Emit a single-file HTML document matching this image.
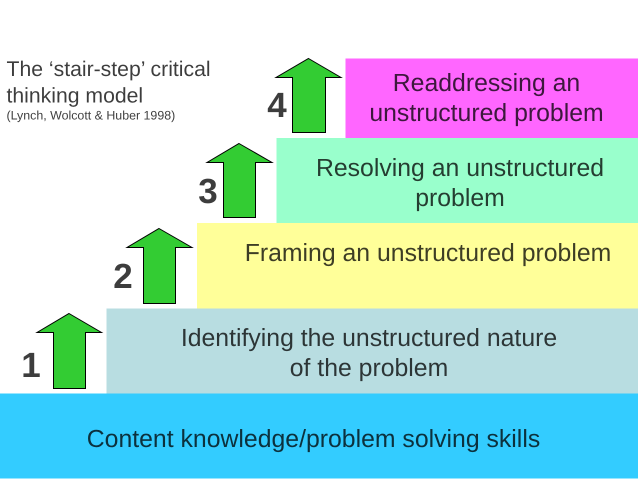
<!DOCTYPE html>
<html><head><meta charset="utf-8"><style>
html,body{margin:0;padding:0;background:#fff}
svg{display:block}
text{font-family:"Liberation Sans",Arial,sans-serif;fill:#000;fill-opacity:.76;text-rendering:geometricPrecision}
</style></head><body>
<svg width="638" height="479" viewBox="0 0 638 479" xmlns="http://www.w3.org/2000/svg">
<rect width="638" height="479" fill="#fff"/>
<rect x="0" y="393.500" width="638" height="85" fill="#33ccff"/>
<rect x="106.500" y="308.500" width="531.500" height="85" fill="#b8dde1"/>
<rect x="197" y="223" width="441" height="85.500" fill="#ffff99"/>
<rect x="276.500" y="138" width="361.500" height="85" fill="#99ffcc"/>
<rect x="345.500" y="58.500" width="292.500" height="79.500" fill="#ff66ff"/>
<g fill="#33cc33" stroke="#000" stroke-width="1">
<polygon points="69,313.500 101.500,332.500 85.500,332.500 85.500,388.500 53.500,388.500 53.500,332.500 37,332.500"/>
<polygon points="159,228.500 192,247.500 175.500,247.500 175.500,303.500 143.500,303.500 143.500,247.500 127,247.500"/>
<polygon points="239,143.500 272,162.500 255.500,162.500 255.500,217.500 223.500,217.500 223.500,162.500 207,162.500"/>
<polygon points="308.500,58.500 341,77.500 325.500,77.500 325.500,132.500 292.500,132.500 292.500,77.500 276,77.500"/>
</g>
<g font-weight="bold" font-size="35" text-anchor="middle">
<text x="31" y="377">1</text>
<text x="123" y="288">2</text>
<text x="208" y="203">3</text>
<text x="277" y="117">4</text>
</g>
<text x="6.500" y="76" font-size="21.200">The ‘stair-step’ critical</text>
<text x="6.500" y="102.500" font-size="21.200">thinking model</text>
<text x="6.500" y="119.500" font-size="12.400">(Lynch, Wolcott &amp; Huber 1998)</text>
<g text-anchor="middle" font-size="24.800">
<text x="486.500" y="91">Readdressing an</text>
<text x="486.500" y="121">unstructured problem</text>
<text x="460" y="176">Resolving an unstructured</text>
<text x="460" y="206">problem</text>
<text x="428" y="261">Framing an unstructured problem</text>
<text x="369" y="346">Identifying the unstructured nature</text>
<text x="369" y="376">of the problem</text>
<text x="313.500" y="447">Content knowledge/problem solving skills</text>
</g>
</svg>
</body></html>
